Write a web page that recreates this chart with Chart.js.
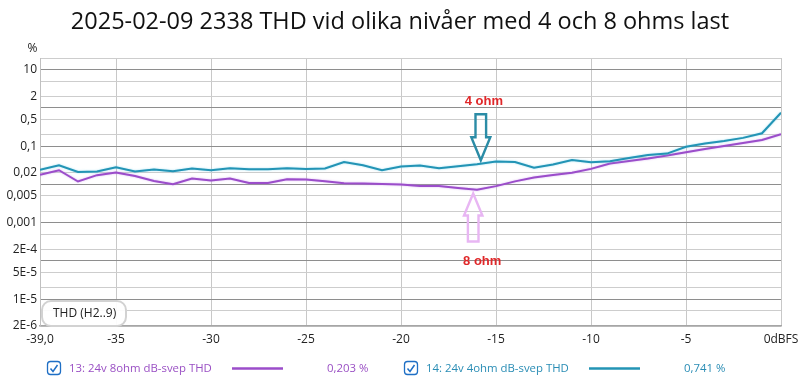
<!DOCTYPE html>
<html><head><meta charset="utf-8">
<script src="https://cdn.jsdelivr.net/npm/chart.js@4"></script>
<style>html,body{margin:0;padding:0;background:#fff;} #wrap{width:800px;height:380px;}</style>
</head><body><div id="wrap"><canvas id="c" width="800" height="380"></canvas></div>
<script>
const titleText = "2025-02-09 2338 THD vid olika nivåer med 4 och 8 ohms last";
const levels = [-39,-38,-37,-36,-35,-34,-33,-32,-31,-30,-29,-28,-27,-26,-25,-24,-23,-22,-21,-20,-19,-18,-17,-16,-15,-14,-13,-12,-11,-10,-9,-8,-7,-6,-5,-4,-3,-2,-1,0];
const thd8ohm = [0.0177,0.0234,0.0119,0.0174,0.0204,0.0166,0.0123,0.0101,0.0143,0.0126,0.0143,0.0109,0.0109,0.0137,0.0134,0.0121,0.0107,0.0105,0.0103,0.0099,0.0091,0.0091,0.0080,0.0072,0.0090,0.0120,0.0152,0.0176,0.0202,0.0254,0.0352,0.0409,0.0475,0.0569,0.0690,0.0840,0.100,0.120,0.144,0.203];
const thd4ohm = [0.0239,0.0316,0.0212,0.0217,0.0281,0.0217,0.0244,0.0221,0.0259,0.0234,0.0264,0.0249,0.0249,0.0264,0.0254,0.0259,0.0385,0.0316,0.0234,0.0292,0.0311,0.0264,0.0298,0.0336,0.0397,0.0385,0.0272,0.0330,0.0432,0.0379,0.0402,0.0487,0.0583,0.0638,0.0959,0.117,0.136,0.164,0.216,0.741];
const yGridValues = [20,10,5,2,1,0.5,0.2,0.1,0.05,0.02,0.01,0.005,0.002,0.001,5e-4,2e-4,1e-4,5e-5,2e-5,1e-5,5e-6,2e-6];
const yLabelValues = [10,2,0.5,0.1,0.02,0.005,0.001,2e-4,5e-5,1e-5,2e-6];
const yTickLabels = ["10","2","0,5","0,1","0,02","0,005","0,001","2E-4","5E-5","1E-5","2E-6"];
const xTickValues = [-39,-35,-30,-25,-20,-15,-10,-5,0];
const xTickLabels = ["-39,0","-35","-30","-25","-20","-15","-10","-5","0dBFS"];
const seriesNames = ["13: 24v 8ohm dB-svep THD","14: 24v 4ohm dB-svep THD"];
const cursorValues = ["0,203 %","0,741 %"];
const yUnit = "%";
const boxLabel = "THD (H2..9)";
const noteLabels = ["4 ohm","8 ohm"];

const PURPLE = '#9b4dca', TEAL = '#2394b5';
const FONT = "'Open Sans', 'Noto Sans', sans-serif";
Chart.defaults.font.family = FONT;
Chart.defaults.font.size = 12;
Chart.defaults.color = '#222';

function isDecade(v){ const l = Math.log10(v); return Math.abs(l - Math.round(l)) < 1e-6; }

function hollowArrow(ctx, tipX, tipY, dir, headLen, headW, shaftW, shaftLen, color, lw){
  const bY = tipY - dir*headLen, eY = bY - dir*shaftLen;
  ctx.beginPath();
  ctx.moveTo(tipX, tipY);
  ctx.lineTo(tipX + headW/2, bY);
  ctx.lineTo(tipX + shaftW/2, bY);
  ctx.lineTo(tipX + shaftW/2, eY);
  ctx.lineTo(tipX - shaftW/2, eY);
  ctx.lineTo(tipX - shaftW/2, bY);
  ctx.lineTo(tipX - headW/2, bY);
  ctx.closePath();
  ctx.strokeStyle = color; ctx.lineWidth = lw; ctx.lineJoin = 'miter';
  ctx.stroke();
}

const glow = {
  id: 'glow',
  beforeDatasetDraw(chart, args){
    const ctx = chart.ctx; ctx.save();
    ctx.shadowColor = args.index === 0 ? 'rgba(200,150,235,0.7)' : 'rgba(120,210,235,0.7)';
    ctx.shadowBlur = 2;
  },
  afterDatasetDraw(chart){ chart.ctx.restore(); }
};

const decor = {
  id: 'decor',
  afterDraw(chart){
    const ctx = chart.ctx, xs = chart.scales.x, ys = chart.scales.y;
    ctx.save();
    ctx.fillStyle = '#111'; ctx.textAlign = 'center'; ctx.textBaseline = 'middle';
    ctx.font = "23.5px " + FONT;
    ctx.fillText(titleText, 400, 22);
    ctx.font = "12px " + FONT; ctx.fillStyle = '#222';
    ctx.fillText(yUnit, 32.5, 49);
    ctx.beginPath(); ctx.roundRect(42, 301, 84, 25, 9);
    ctx.fillStyle = 'rgba(255,255,255,0.92)'; ctx.fill();
    ctx.strokeStyle = '#d2d2d2'; ctx.lineWidth = 2; ctx.stroke();
    ctx.fillStyle = '#222'; ctx.textAlign = 'left';
    ctx.fillText(boxLabel, 53, 314);
    const tTipX = xs.getPixelForValue(-15.8), tTipY = ys.getPixelForValue(0.0426);
    hollowArrow(ctx, tTipX, tTipY, 1, 23, 19, 10.6, 23, '#2b8ca6', 2.4);
    const pTipX = xs.getPixelForValue(-16.2), pTipY = ys.getPixelForValue(0.0058);
    hollowArrow(ctx, pTipX, pTipY, -1, 22, 18.4, 10.6, 26, '#e8b6f3', 2.4);
    ctx.font = "bold 13px 'Liberation Sans', Arial, sans-serif";
    ctx.fillStyle = '#e0282a'; ctx.textAlign = 'center';
    ctx.fillText(noteLabels[0], tTipX + 3, tTipY - 59);
    ctx.fillText(noteLabels[1], pTipX + 9, pTipY + 68);
    const items = [
      {cb: 47.5, tx: 69, l0: 232, l1: 283, vx: 327, col: PURPLE, tcol: '#9a50c4'},
      {cb: 404.5, tx: 426, l0: 589, l1: 640, vx: 684, col: TEAL, tcol: '#2a8db5'}
    ];
    const ly = 368.5;
    ctx.font = "11.4px " + FONT; ctx.textAlign = 'left'; ctx.textBaseline = 'middle';
    items.forEach((it, i) => {
      ctx.beginPath(); ctx.roundRect(it.cb, 361.5, 13, 13, 3);
      ctx.fillStyle = '#fff'; ctx.fill();
      ctx.strokeStyle = '#1f6fc5'; ctx.lineWidth = 1.3; ctx.stroke();
      ctx.beginPath(); ctx.moveTo(it.cb + 3, ly); ctx.lineTo(it.cb + 5.5, ly + 3); ctx.lineTo(it.cb + 10, ly - 3.5);
      ctx.lineWidth = 1.5; ctx.stroke();
      ctx.fillStyle = it.tcol;
      ctx.fillText(seriesNames[i], it.tx, ly);
      ctx.beginPath(); ctx.moveTo(it.l0, ly); ctx.lineTo(it.l1, ly);
      ctx.strokeStyle = it.col; ctx.lineWidth = 2.5; ctx.stroke();
      ctx.fillText(cursorValues[i], it.vx, ly);
    });
    ctx.restore();
  }
};

new Chart(document.getElementById('c'), {
  type: 'line',
  data: {
    datasets: [
      {label: seriesNames[0], data: levels.map((x, i) => ({x, y: thd8ohm[i]})), borderColor: PURPLE, borderWidth: 2, pointRadius: 0, tension: 0, order: 2},
      {label: seriesNames[1], data: levels.map((x, i) => ({x, y: thd4ohm[i]})), borderColor: TEAL, borderWidth: 2, pointRadius: 0, tension: 0, order: 1}
    ]
  },
  options: {
    responsive: false, animation: false,
    layout: {padding: {top: 58, right: 19, left: 0, bottom: 0}},
    plugins: {legend: {display: false}, title: {display: false}, tooltip: {enabled: false}},
    scales: {
      x: {
        type: 'linear', min: -39, max: 0,
        afterBuildTicks: s => { s.ticks = xTickValues.map(v => ({value: v})); },
        afterFit: s => { s.height = 54; s.paddingLeft = 0; s.paddingRight = 0; },
        ticks: {callback: v => xTickLabels[xTickValues.indexOf(v)], maxRotation: 0, autoSkip: false, padding: 6, color: '#222', font: {size: 12}},
        grid: {color: '#c8c8c8', drawTicks: false},
        border: {color: '#a6a6a6', width: 1.5}
      },
      y: {
        type: 'logarithmic', min: 2e-6, max: 20,
        afterBuildTicks: s => { s.ticks = yGridValues.map(v => ({value: v})); },
        afterFit: s => { s.width = 40; s.paddingTop = 0; s.paddingBottom = 0; },
        ticks: {
          callback: v => { const k = yLabelValues.findIndex(t => Math.abs(t - v) / t < 1e-6); return k >= 0 ? yTickLabels[k] : ''; },
          autoSkip: false, padding: 3, color: '#222', font: {size: 12}
        },
        grid: {color: c => (c.tick && isDecade(c.tick.value)) ? '#8e8e8e' : '#cdcdcd', drawTicks: false},
        border: {color: '#c0c0c0'}
      }
    }
  },
  plugins: [glow, decor]
});
</script>
</body></html>
